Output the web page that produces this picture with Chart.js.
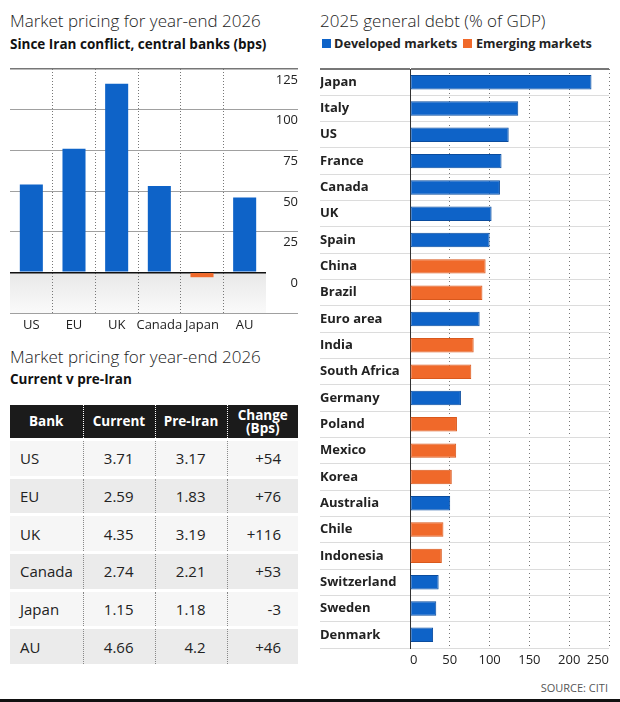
<!DOCTYPE html>
<html>
<head>
<meta charset="utf-8">
<script src="https://cdn.jsdelivr.net/npm/chart.js@4.4.1/dist/chart.umd.min.js"></script>
<style>
  body { margin: 0; background: #fff; font-family: "Open Sans", sans-serif; color: #222; }
  #page { position: relative; width: 620px; height: 702px; overflow: hidden; }
  .title { position: absolute; font-size: 17px; font-weight: 300; line-height: 20px; white-space: nowrap; color: #222; }
  .sub { position: absolute; font-size: 13.5px; font-weight: 700; line-height: 16px; white-space: nowrap; color: #111; }
  .box { position: absolute; }
  .legend { position: absolute; top: 35px; font-size: 12.7px; font-weight: 700; line-height: 16px; white-space: nowrap; color: #222; }
  .legend i { position: absolute; top: 4px; width: 9px; height: 9px; }
  #tbl { position: absolute; left: 10px; top: 405px; width: 288px; border-collapse: collapse; table-layout: fixed; }
  #tbl th { background: #1b1b1b; color: #fff; font-size: 13.5px; font-weight: 700; line-height: 13px; height: 33px; padding: 0; text-align: center; }
  #tbl td { font-size: 15px; height: 34.7px; padding: 0; border-top: 3px solid #fff; color: #222; }
  #tbl th + th { border-left: 1px dotted #fff; }
  #tbl td + td { border-left: 1px dotted #888; }
  #tbl td.c0 { padding-left: 10px; text-align: left; }
  #tbl td.c1, #tbl td.c2 { text-align: right; padding-right: 21px; }
  #tbl td.c3 { text-align: right; padding-right: 17px; }
  #tbl tr.odd td { background: #f6f6f6; }
  #tbl tr.even td { background: #ebebeb; }
  #source { position: absolute; right: 12px; top: 681px; font-size: 11px; line-height: 14px; color: #555; }
  #rule { position: absolute; left: 0; top: 699px; width: 620px; height: 3px; background: #111; }
</style>
</head>
<body>
<div id="page">
  <div class="title" style="left:10px; top:11px;">Market pricing for year-end 2026</div>
  <div class="sub" style="left:10px; top:36px;">Since Iran conflict, central banks (bps)</div>
  <div class="box" style="left:0; top:60px; width:310px; height:280px;"><canvas id="bankChart"></canvas></div>

  <div class="title" style="left:10px; top:347px;">Market pricing for year-end 2026</div>
  <div class="sub" style="left:10px; top:371px;">Current v pre-Iran</div>
  <table id="tbl">
    <colgroup><col style="width:73px"><col style="width:72px"><col style="width:72px"><col style="width:71px"></colgroup>
    <thead><tr><th>Bank</th><th>Current</th><th>Pre-Iran</th><th>Change<br>(Bps)</th></tr></thead>
    <tbody id="tblBody"></tbody>
  </table>

  <div class="title" style="left:320px; top:11px;">2025 general debt (% of GDP)</div>
  <div class="legend" style="left:322px;"><i style="left:0; background:#0e63c8;"></i><span style="margin-left:12px;">Developed markets</span></div>
  <div class="legend" style="left:463px;"><i style="left:0; background:#f0692a;"></i><span style="margin-left:13px;">Emerging markets</span></div>
  <div class="box" style="left:310px; top:60px; width:310px; height:612px;"><canvas id="debtChart"></canvas></div>

  <div id="source">SOURCE: CITI</div>
  <div id="rule"></div>
</div>

<script>
// ---- data: central bank pricing ----
const banks = ["US", "EU", "UK", "Canada", "Japan", "AU"];
const changeBps = [54, 76, 116, 53, -3, 46];
const currentRate = ["3.71", "2.59", "4.35", "2.74", "1.15", "4.66"];
const preIranRate = ["3.17", "1.83", "3.19", "2.21", "1.18", "4.2"];
const bpsTicks = [-25, 0, 25, 50, 75, 100, 125];

// ---- data: general debt ----
const countries = ["Japan", "Italy", "US", "France", "Canada", "UK", "Spain", "China", "Brazil",
  "Euro area", "India", "South Africa", "Germany", "Poland", "Mexico", "Korea", "Australia",
  "Chile", "Indonesia", "Switzerland", "Sweden", "Denmark"];
const debtPct = [228, 136, 124, 115, 113, 102.5, 100, 95, 91, 87.5, 80, 77, 64, 59, 58, 52.5, 50.5, 42, 40, 36, 33, 29];
const marketType = ["D", "D", "D", "D", "D", "D", "D", "E", "E", "D", "E", "E", "D", "E", "E", "E", "D", "E", "E", "D", "D", "D"];
const debtTicks = [0, 50, 100, 150, 200, 250];

const BLUE = "#0e63c8";
const ORANGE = "#f0692a";

Chart.defaults.font.family = "'Open Sans', sans-serif";
Chart.defaults.font.size = 13;
Chart.defaults.color = "#333";

// table rows
const body = document.getElementById("tblBody");
banks.forEach((b, i) => {
  const tr = document.createElement("tr");
  tr.className = i % 2 === 0 ? "odd" : "even";
  const chg = changeBps[i] > 0 ? "+" + changeBps[i] : String(changeBps[i]);
  [b, currentRate[i], preIranRate[i], chg].forEach((txt, j) => {
    const td = document.createElement("td");
    td.className = "c" + j;
    td.textContent = txt;
    tr.appendChild(td);
  });
  body.appendChild(tr);
});

// grey fade below the zero line
const belowZero = {
  id: "belowZero",
  beforeDraw(chart) {
    const { ctx, chartArea: a, scales: { y } } = chart;
    const y0 = y.getPixelForValue(0);
    const y1 = y.getPixelForValue(bpsTicks[0]);
    const g = ctx.createLinearGradient(0, y0, 0, y1);
    g.addColorStop(0, "#e8e8e8");
    g.addColorStop(1, "#fafafa");
    ctx.save();
    ctx.fillStyle = g;
    ctx.fillRect(a.left, y0, a.right - a.left, y1 - y0);
    ctx.restore();
  }
};

new Chart(document.getElementById("bankChart"), {
  type: "bar",
  data: {
    labels: banks,
    datasets: [{
      data: changeBps,
      backgroundColor: changeBps.map(v => v < 0 ? ORANGE : BLUE),
      barPercentage: 0.54,
      categoryPercentage: 1
    }]
  },
  options: {
    responsive: true,
    maintainAspectRatio: false,
    animation: false,
    layout: { padding: { top: 9, left: 10, right: 12, bottom: 0 } },
    plugins: { legend: { display: false }, tooltip: { enabled: false } },
    scales: {
      x: {
        afterFit(s) { s.height = 27; },
        grid: {
          offset: true,
          drawTicks: false,
          color: c => (c.index > 0 && c.index < banks.length) ? "#777" : "rgba(0,0,0,0)"
        },
        border: { display: false, dash: [1, 2] },
        ticks: { padding: 4, color: "#222", maxRotation: 0, minRotation: 0, autoSkip: false }
      },
      y: {
        position: "right",
        min: bpsTicks[0],
        max: bpsTicks[bpsTicks.length - 1],
        afterFit(s) { s.width = 32; },
        afterBuildTicks(s) { s.ticks = bpsTicks.map(v => ({ value: v })); },
        grid: {
          tickLength: 32,
          color: c => c.tick.value === 125 ? "#777" : (c.tick.value === 0 ? "#111" : "#a0a0a0"),
          tickColor: c => c.tick.value === 0 ? "rgba(0,0,0,0)" : (c.tick.value === 125 ? "#777" : "#a0a0a0"),
          lineWidth: c => (c.tick.value === 125 || c.tick.value === 0) ? 1.5 : 1
        },
        border: { display: false },
        ticks: {
          crossAlign: "far",
          padding: -22,
          labelOffset: 11,
          color: "#222",
          callback: v => v < 0 ? "" : v
        }
      }
    }
  },
  plugins: [belowZero]
});

new Chart(document.getElementById("debtChart"), {
  type: "bar",
  data: {
    labels: countries,
    datasets: [{
      data: debtPct,
      backgroundColor: marketType.map(t => t === "D" ? BLUE : ORANGE),
      borderColor: marketType.map(t => t === "D" ? "#0a4c9e" : "#d9581c"),
      borderWidth: 1,
      borderSkipped: false,
      barPercentage: 0.55,
      categoryPercentage: 1
    }]
  },
  options: {
    indexAxis: "y",
    responsive: true,
    maintainAspectRatio: false,
    animation: false,
    layout: { padding: { top: 9, left: 10, right: 0, bottom: 0 } },
    plugins: { legend: { display: false }, tooltip: { enabled: false } },
    scales: {
      x: {
        min: 0,
        max: 250,
        afterFit(s) { s.height = 24; s.paddingRight = 11; s.paddingLeft = 0; },
        afterBuildTicks(s) { s.ticks = debtTicks.map(v => ({ value: v })); },
        grid: {
          drawTicks: false,
          color: c => c.tick && c.tick.value === 0 ? "rgba(0,0,0,0)" : "#777"
        },
        border: { display: false, dash: [1, 3] },
        ticks: { padding: 4, color: "#222", maxRotation: 0, align: "inner" }
      },
      y: {
        afterFit(s) { s.width = 90; },
        grid: {
          offset: true,
          tickLength: 90,
          color: c => c.index === 0 ? "#777" : (c.index >= countries.length ? "rgba(0,0,0,0)" : "#dcdcdc"),
          lineWidth: c => c.index === 0 ? 2 : 1
        },
        border: { display: true, color: "#333", width: 1 },
        ticks: {
          autoSkip: false,
          crossAlign: "far",
          padding: 0,
          color: "#222",
          font: { weight: "bold", size: 13 }
        }
      }
    }
  }
});
</script>
</body>
</html>
